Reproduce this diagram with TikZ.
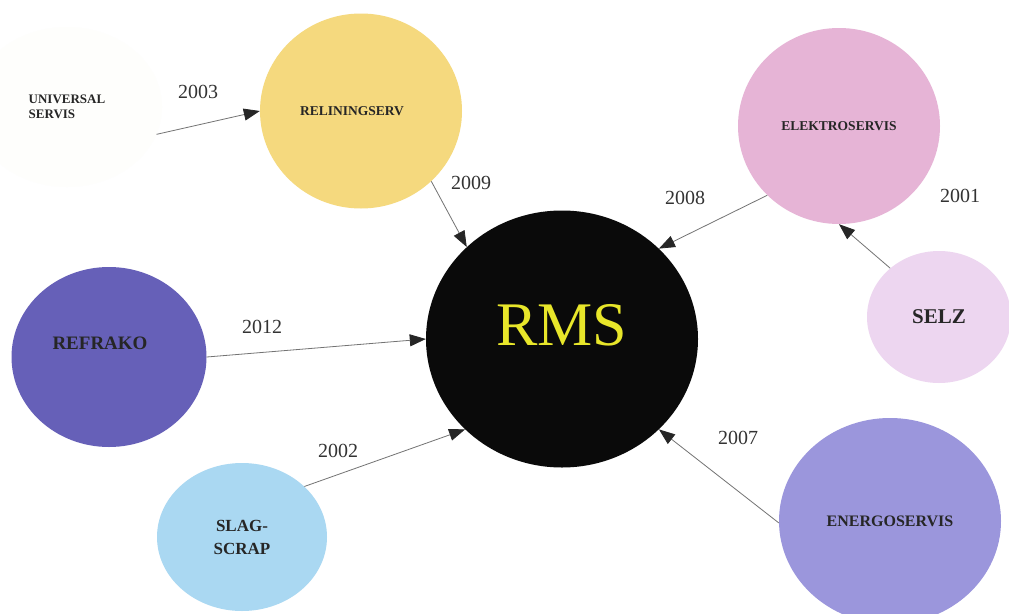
\documentclass[tikz,border=0pt]{standalone}
\usepackage{fontspec}
\setmainfont{Liberation Serif}
\usetikzlibrary{shapes.geometric,arrows.meta}

\definecolor{univcol}{HTML}{FEFEFC}
\definecolor{relincol}{HTML}{F5D97E}
\definecolor{elekcol}{HTML}{E6B4D6}
\definecolor{selzcol}{HTML}{EDD6F0}
\definecolor{refrcol}{HTML}{6660B8}
\definecolor{slagcol}{HTML}{AAD8F2}
\definecolor{energcol}{HTML}{9B96DC}
\definecolor{rmstext}{HTML}{E8E62A}

\begin{document}
\begin{tikzpicture}[x=1pt,y=-1pt,
  blob/.style={ellipse,inner sep=0pt,font=\bfseries,text=black!85},
  link/.style={draw=black!55,line width=0.8pt,-{Triangle[length=16pt,width=12pt,color=black!85]}},
  year/.style={font=\fontsize{20}{22}\selectfont,text=black!80}]
\useasboundingbox[fill=white] (0,0) rectangle (1009,613);

% firms
\node[blob,fill=univcol,minimum width=190pt,minimum height=160pt,align=left,
  font=\fontsize{13}{15}\selectfont\bfseries] (univ) at (67,107) {UNIVERSAL\\SERVIS};
\node[blob,fill=relincol,minimum width=202pt,minimum height=195pt,
  font=\fontsize{13.5}{15}\selectfont\bfseries] (relin) at (361,111) {\hspace*{-18pt}RELININGSERV};
\node[blob,fill=elekcol,minimum width=202pt,minimum height=196pt,
  font=\fontsize{13.5}{15}\selectfont\bfseries] (elek) at (839,126) {ELEKTROSERVIS};
\node[blob,fill=selzcol,minimum width=144pt,minimum height=132pt,
  font=\fontsize{21}{23}\selectfont\bfseries] (selz) at (939,317) {SELZ};
\node[blob,fill=refrcol,minimum width=195pt,minimum height=180pt,
  label={[name=refrtxt,xshift=-9pt,yshift=14pt,text=black!85,font=\fontsize{19}{21}\selectfont\bfseries]center:REFRAKO}] (refr) at (109,357) {};
\node[blob,fill=slagcol,minimum width=170pt,minimum height=148pt,align=center,
  font=\fontsize{17}{23}\selectfont\bfseries] (slag) at (242,537) {SLAG-\\SCRAP};
\node[blob,fill=energcol,minimum width=222pt,minimum height=206pt,
  font=\fontsize{16}{18}\selectfont\bfseries] (energ) at (890,521) {ENERGOSERVIS};

% RMS
\node[ellipse,inner sep=0pt,fill=black!96,minimum width=272pt,minimum height=257pt,
  label={[name=rmstxt,yshift=14pt,text=rmstext,font=\fontsize{62}{64}\selectfont]center:RMS}] (rms) at (562,339) {};

% links
\draw[link] (univ.-17) -- (relin.west);
\draw[link] (relin.-45) -- (rms.136);
\draw[link] (elek.224) -- (rms.43);
\draw[link] (selz.135) -- (elek.south);
\draw[link] (refr.east) -- (rms.west);
\draw[link] (slag.39) -- (rms.223);
\draw[link] (energ.181) -- (rms.-43);

% years
\node[year] (y2003) at (198,92) {2003};
\node[year] (y2009) at (471,183) {2009};
\node[year] (y2008) at (685,198) {2008};
\node[year] (y2001) at (960,196) {2001};
\node[year] (y2012) at (262,327) {2012};
\node[year] (y2002) at (338,451) {2002};
\node[year] (y2007) at (738,438) {2007};
\end{tikzpicture}
\end{document}
